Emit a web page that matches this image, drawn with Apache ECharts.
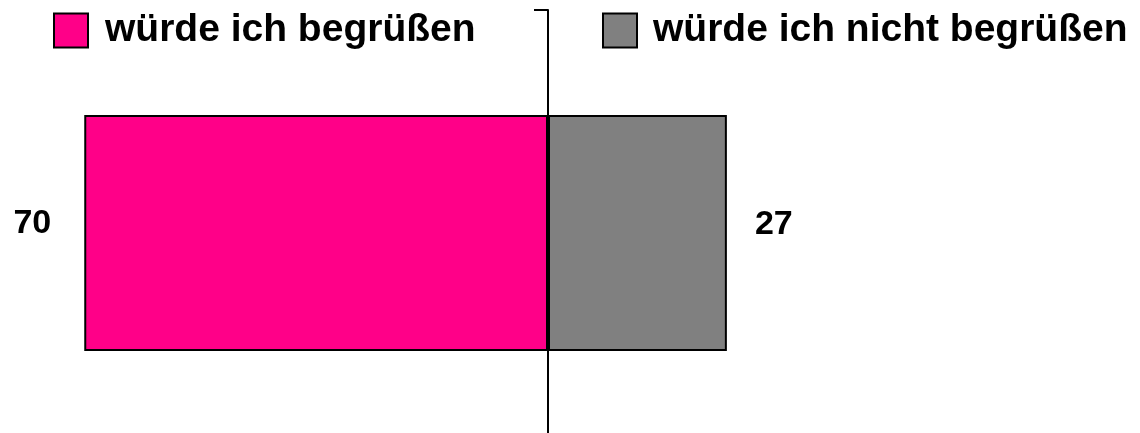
<!DOCTYPE html>
<html>
<head>
<meta charset="utf-8">
<script src="https://cdn.jsdelivr.net/npm/echarts@6/dist/echarts.min.js"></script>
<style>
  html, body { margin: 0; padding: 0; background: #fff; }
  #chart { width: 1140px; height: 433px; }
</style>
</head>
<body>
<div id="chart"></div>
<script>
// data
var categories = [''];
var seriesNames = ['würde ich begrüßen', 'würde ich nicht begrüßen'];
var welcome = [70];
var notWelcome = [27];

var font = "'Liberation Sans', Arial, sans-serif";
var chart = echarts.init(document.getElementById('chart'));

var legendText = { fontFamily: font, fontSize: 39, fontWeight: 'bold', color: '#000' };

var options = {
  animation: false,
  color: ['#ff0088', '#808080'],
  legend: [
    {
      left: 53, top: 11, padding: 0,
      icon: 'rect',
      itemWidth: 34, itemHeight: 34,
      data: [seriesNames[0]],
      textStyle: Object.assign({ padding: [0, 0, 0, 12] }, legendText)
    },
    {
      left: 602, top: 11, padding: 0,
      icon: 'rect',
      itemWidth: 34, itemHeight: 34,
      data: [seriesNames[1]],
      textStyle: Object.assign({ padding: [0, 0, 0, 11] }, legendText)
    }
  ],
  grid: { left: 18, top: 10, width: 1060, height: 446, outerBoundsMode: 'none' },
  xAxis: {
    type: 'value',
    min: -80,
    max: 80,
    axisLine: { show: false },
    axisTick: { show: false },
    axisLabel: { show: false },
    splitLine: { show: false }
  },
  yAxis: {
    type: 'category',
    data: categories,
    axisLine: { show: true, onZero: true, lineStyle: { color: '#000', width: 2 } },
    axisTick: { show: true, length: 14, lineStyle: { color: '#000', width: 2 } },
    axisLabel: { show: false }
  },
  series: [
    {
      name: seriesNames[0],
      type: 'bar',
      stack: 'total',
      barWidth: 236,
      data: welcome.map(function (v) { return -v; }),
      itemStyle: { color: '#ff0088', borderColor: '#000', borderWidth: 2 },
      label: {
        show: true,
        position: 'left',
        distance: 33,
        offset: [0, -9],
        formatter: function (p) { return Math.abs(p.value); },
        fontFamily: font, fontSize: 34, fontWeight: 'bold', color: '#000'
      }
    },
    {
      name: seriesNames[1],
      type: 'bar',
      stack: 'total',
      barWidth: 236,
      data: notWelcome,
      itemStyle: { color: '#808080', borderColor: '#000', borderWidth: 2 },
      label: {
        show: true,
        position: 'right',
        distance: 28,
        offset: [0, -8],
        fontFamily: font, fontSize: 34, fontWeight: 'bold', color: '#000'
      }
    }
  ]
};
chart.setOption(options);
window.addEventListener('resize', function () { chart.resize(); });
</script>
</body>
</html>
